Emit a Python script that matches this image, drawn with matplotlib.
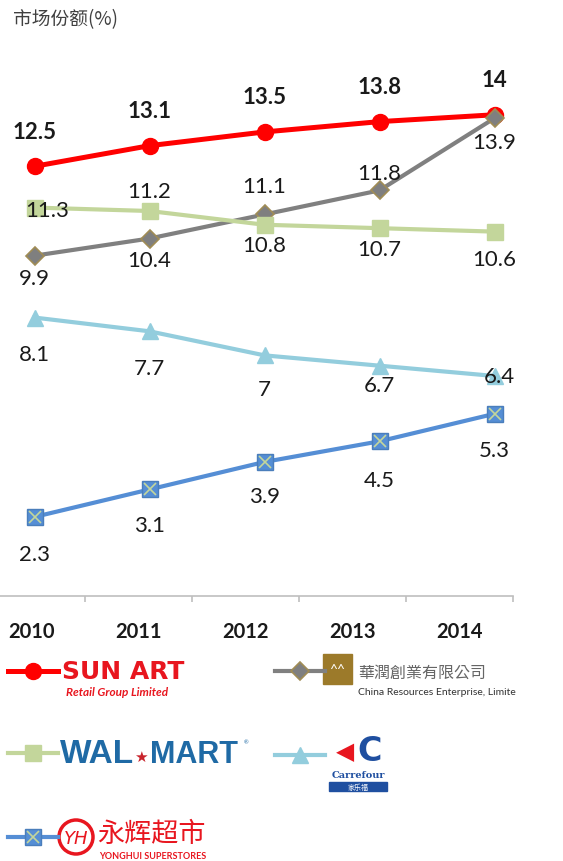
import matplotlib.pyplot as plt
from matplotlib.patches import Rectangle, Circle

plt.rcParams['font.family'] = ['Lato', 'Noto Sans CJK SC', 'DejaVu Sans']

# data
years = ['2010', '2011', '2012', '2013', '2014']
sunart = [12.5, 13.1, 13.5, 13.8, 14]
cre = [9.9, 10.4, 11.1, 11.8, 13.9]
walmart = [11.3, 11.2, 10.8, 10.7, 10.6]
carrefour = [8.1, 7.7, 7, 6.7, 6.4]
yonghui = [2.3, 3.1, 3.9, 4.5, 5.3]

# label offsets in pixels (dx, dy), dy positive = up
off_sunart = [(0, 35)] * 5
off_cre = [(0, -22), (0, -22), (0, 28), (0, 17), (0, -24)]
off_walmart = [(13, -2), (0, 20), (0, -20), (0, -21), (0, -27)]
off_carrefour = [(0, -36), (0, -37), (0, -34), (0, -19), (5, 0)]
off_yonghui = [(0, -37), (0, -36), (0, -34), (0, -39), (0, -36)]

W, H = 563, 862
fig = plt.figure(figsize=(W / 100, H / 100), dpi=100)

# styles shared by chart and legend samples
st_sunart = dict(color='#FF0000', lw=3.6, marker='o', ms=11.5)
st_cre = dict(color='#808080', lw=3, marker='D', ms=9, mfc='#7F7F7F',
              mec='#A08C55', mew=1.2)
st_walmart = dict(color='#C3D69B', lw=3, marker='s', ms=11)
st_carrefour = dict(color='#93CDDD', lw=3, marker='^', ms=11)
st_yonghui = dict(color='#558ED5', lw=3, marker='s', ms=11, mfc='#558ED5', mec='#4A7EBB')
st_cross = dict(ls='none', marker='x', ms=9, mew=1.2, color='#C3D69B')

# axes for the lines
ax = fig.add_axes([0, (H - 597) / H, 552 / W, 550 / H])
ax.set_xlim(-0.3, 4.5)
ax.set_ylim(0, 16)
ax.axis('off')
x = range(len(years))

ax.plot(x, sunart, zorder=3, **st_sunart)
ax.plot(x, cre, zorder=4, **st_cre)
ax.plot(x, walmart, zorder=5, **st_walmart)
ax.plot(x, carrefour, zorder=5, **st_carrefour)
ax.plot(x, yonghui, zorder=5, **st_yonghui)
ax.plot(x, yonghui, zorder=6, **st_cross)


def labels(vals, offs, bold=False):
    for i, (v, (dx, dy)) in enumerate(zip(vals, offs)):
        ax.annotate(f'{v:g}', (i, v), xytext=(dx * 0.72, dy * 0.72),
                    textcoords='offset points', ha='center', va='center',
                    fontsize=16, color='#1a1a1a',
                    fontweight='bold' if bold else 'normal', zorder=10)


labels(sunart, off_sunart, bold=True)
labels(cre, off_cre)
labels(walmart, off_walmart)
labels(carrefour, off_carrefour)
labels(yonghui, off_yonghui)

# category axis
axx = fig.add_axes([-22 / W, (H - 597) / H, 535 / W, 0.01])
axx.set_xlim(-0.5, 4.5)
axx.patch.set_visible(False)
for s in ['top', 'left', 'right']:
    axx.spines[s].set_visible(False)
axx.spines['bottom'].set_color('#BFBFBF')
axx.spines['bottom'].set_linewidth(1.2)
axx.set_yticks([])
axx.set_xticks(range(len(years)))
axx.set_xticklabels(years, fontsize=14.5, fontweight='bold', color='#1a1a1a')
axx.tick_params(axis='x', which='major', length=0, pad=18)
axx.set_xticks([i + 0.5 for i in range(-1, len(years))], minor=True)
axx.tick_params(axis='x', which='minor', length=4, color='#BFBFBF', width=1.2)

fig.text(13 / W, 1 - 20 / H, '市场份额(%)', fontsize=13.5, color='#404040',
         family=['Noto Sans CJK SC', 'DejaVu Sans'], va='center')

# legend area with logo-like texts
lg = fig.add_axes([0, 0, 1, 1])
lg.set_xlim(0, W)
lg.set_ylim(H, 0)
lg.axis('off')


def sample(x0, y0, style):
    lg.plot([x0, x0 + 25, x0 + 50], [y0, y0, y0], markevery=[1], **style)


sample(8, 672, st_sunart)
sample(275, 672, st_cre)
sample(8, 754, st_walmart)
sample(275, 756, st_carrefour)
sample(8, 838, st_yonghui)
lg.plot([33], [838], **st_cross)

lg.text(62, 672, 'SUN ART', fontsize=18, fontweight='bold', color='#E8161F',
        family='Liberation Sans Narrow', va='center')
lg.text(66, 693, 'Retail Group Limited', fontsize=8.5, fontweight='bold',
        style='italic', color='#E8161F', va='center')

lg.add_patch(Rectangle((323, 655), 29, 30, color='#9C7A2A'))
lg.text(337, 670, '^^', fontsize=10, color='white', ha='center', va='center')
lg.text(358, 673, '華潤創業有限公司', fontsize=11.5, color='#666666', va='center',
        family=['Noto Sans CJK TC', 'DejaVu Sans'])
lg.text(358, 693, 'China Resources Enterprise, Limite', fontsize=7.5, color='#333333',
        va='center')

lg.text(60, 755, 'WAL', fontsize=24, fontweight='bold', color='#1F6AA5',
        family='Liberation Sans', va='center')
lg.text(141, 757, '★', fontsize=11, color='#C8232C', va='center', ha='center',
        family='DejaVu Sans')
lg.text(150, 755, 'MART', fontsize=22, fontweight='bold', color='#1F6AA5',
        family='Liberation Sans', va='center')
lg.text(244, 743, '®', fontsize=4, color='#1F6AA5', va='center')

lg.text(345, 752, '◀', fontsize=17, color='#E8161F', ha='center', va='center',
        family='DejaVu Sans')
lg.text(370, 752, 'C', fontsize=24, fontweight='bold', color='#1F4FA0', ha='center',
        va='center', family='DejaVu Sans')
lg.text(358, 776, 'Carrefour', fontsize=7, fontweight='bold', color='#1F4FA0',
        ha='center', va='center', family='DejaVu Serif')
lg.add_patch(Rectangle((329, 783), 58, 9, color='#1F4FA0'))
lg.text(358, 787.5, '家乐福', fontsize=5, color='white', ha='center', va='center',
        family=['Noto Sans CJK SC'])

lg.add_patch(Circle((76, 838), 17, fill=False, ec='#E8161F', lw=2.5))
lg.text(76, 839, 'YH', fontsize=13, style='italic', color='#E8161F', ha='center',
        va='center', family='DejaVu Sans')
lg.text(97, 835, '永辉超市', fontsize=19.5, color='#E8161F', va='center',
        family=['Noto Sans CJK SC'])
lg.text(99, 857, 'YONGHUI SUPERSTORES', fontsize=6.5, fontweight='bold',
        color='#E8161F', va='center')

fig.savefig('out.png', dpi=100)
